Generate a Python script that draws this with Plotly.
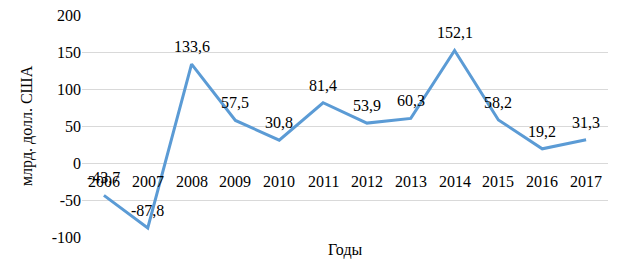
import plotly.graph_objects as go

years = [2006, 2007, 2008, 2009, 2010, 2011, 2012, 2013, 2014, 2015, 2016, 2017]
values = [-43.7, -87.8, 133.6, 57.5, 30.8, 81.4, 53.9, 60.3, 152.1, 58.2, 19.2, 31.3]
y_ticks = [-100, -50, 0, 50, 100, 150, 200]
y_tick_labels = ["-100", "-50", "0", "50", "100", "150", "200"]

FONT = "Liberation Serif"
FS = 16
labels = [f"{v:.1f}".replace(".", ",") for v in values]

fig = go.Figure()
fig.add_trace(go.Scatter(
    x=years, y=values, mode="lines",
    line=dict(color="#5B9BD5", width=3),
    hoverinfo="skip", showlegend=False, cliponaxis=False,
))

for yr, v, lab in zip(years, values, labels):
    fig.add_annotation(x=yr, y=v, xref="x", yref="y", text=lab, showarrow=False,
                       yanchor="bottom", yshift=7,
                       font=dict(family=FONT, size=FS, color="#000000"))

for yr in years:
    fig.add_annotation(x=yr, y=0, xref="x", yref="y", text=str(yr), showarrow=False,
                       yanchor="top", yshift=-8,
                       font=dict(family=FONT, size=FS, color="#000000"))

fig.add_annotation(x=0.5, y=0, xref="paper", yref="paper", text="Годы", showarrow=False,
                   yanchor="top", yshift=-2,
                   font=dict(family=FONT, size=FS, color="#000000"))

fig.add_annotation(x=0, y=0.5, xref="paper", yref="paper", text="млрд. долл. США",
                   showarrow=False, textangle=-90, xanchor="center", yanchor="middle",
                   xshift=-55, font=dict(family=FONT, size=FS, color="#000000"))

fig.update_layout(
    width=623, height=275,
    margin=dict(l=74, r=23, t=7, b=46, autoexpand=False),
    paper_bgcolor="white", plot_bgcolor="white",
    font=dict(family=FONT, size=FS, color="#000000"),
    xaxis=dict(range=[years[0] - 0.5, years[-1] + 0.5], showticklabels=False, showgrid=False,
               zeroline=False, showline=False, ticks="", automargin=False),
    yaxis=dict(range=[-100, 200], tickvals=y_ticks, ticktext=y_tick_labels,
               showgrid=True, gridcolor="#D9D9D9", gridwidth=1, zeroline=False,
               showline=False, ticks="", ticklen=0, ticklabeloverflow="allow",
               automargin=False,
               tickfont=dict(family=FONT, size=FS, color="#000000")),
)

fig.write_html("out.html")
